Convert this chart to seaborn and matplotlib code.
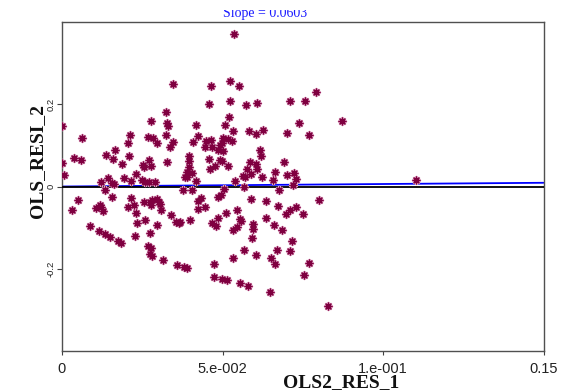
import numpy as np
import pandas as pd
import matplotlib
matplotlib.use("Agg")
import matplotlib.pyplot as plt
from matplotlib.patches import Rectangle
import seaborn as sns

# ---- data ----
ols2_res_1 = [
    0.0535, 0.0345, 0.0463, 0.0523, 0.0551, 0.0790, 0.0458, 0.0523, 0.0573, 0.0608,
    0.0709, 0.0757, 0.0324, 0.0521, 0.0278, 0.0327, 0.0331, 0.0418, 0.0508, 0.0739,
    0.0871, 0.0000, 0.0063, 0.0211, 0.0269, 0.0283, 0.0323, 0.0424, 0.0205, 0.0296,
    0.0345, 0.0335, 0.0408, 0.0444, 0.0165, 0.0138, 0.0038, 0.0059, 0.0159, 0.0208,
    0.0395, 0.0395, 0.0000, 0.0186, 0.0252, 0.0254, 0.0277, 0.0271, 0.0327, 0.0396,
    0.0389, 0.0406, 0.0005, 0.0229, 0.0382, 0.0390, 0.0144, 0.0193, 0.0120, 0.0156,
    0.0162, 0.0214, 0.0249, 0.0260, 0.0271, 0.0289, 0.0417, 0.0134, 0.0377, 0.0405,
    0.0050, 0.0156, 0.0214, 0.0255, 0.0275, 0.0279, 0.0297, 0.0302, 0.0424, 0.0434,
    0.0117, 0.0105, 0.0122, 0.0206, 0.0224, 0.0276, 0.0304, 0.0031, 0.0129, 0.0230,
    0.0308, 0.0341, 0.0425, 0.0259, 0.0398,
    0.0532, 0.0584, 0.0605, 0.0625, 0.0702, 0.0769, 0.0449, 0.0465, 0.0503, 0.0517,
    0.0529, 0.0499, 0.0491, 0.0467, 0.0485, 0.0503, 0.0617, 0.0619, 0.0459, 0.0493,
    0.0497, 0.0587, 0.0604, 0.0692, 0.0516, 0.0478, 0.0462, 0.0575, 0.0608, 0.0665,
    0.0701, 0.0723, 0.0563, 0.0569, 0.0589, 0.0622, 0.0658, 0.0730, 0.0538, 0.0721,
    0.0504, 0.0496, 0.0486, 0.0566, 0.0677, 0.0589, 0.0635, 0.0801, 0.0446, 0.0674,
    0.0511, 0.0544, 0.0710, 0.0730, 0.0751, 0.0699, 0.0486, 0.0553, 0.0559, 0.0635,
    0.0086, 0.0116, 0.0134, 0.0150, 0.0175, 0.0184, 0.0226, 0.0235, 0.0274, 0.0296,
    0.0354, 0.0364, 0.0369, 0.0267, 0.0278, 0.0273, 0.0280, 0.0314, 0.0357, 0.0380,
    0.0388, 0.0468, 0.0480, 0.0532, 0.0545, 0.0594, 0.0594, 0.0659, 0.0684, 0.0593,
    0.0717, 0.0568, 0.0605, 0.0671, 0.0711, 0.0650, 0.0663, 0.0532, 0.0474, 0.0769,
    0.0474, 0.0499, 0.0513, 0.0554, 0.0578, 0.0753, 0.0647, 0.0830, 0.1104,
]
ols_resi_2 = [
    0.3707, 0.2496, 0.2443, 0.2570, 0.2447, 0.2308, 0.2012, 0.2086, 0.1988, 0.2037,
    0.2068, 0.2086, 0.1800, 0.1685, 0.1584, 0.1543, 0.1465, 0.1494, 0.1506, 0.1543,
    0.1604, 0.1465, 0.1188, 0.1254, 0.1205, 0.1188, 0.1254, 0.1237, 0.1059, 0.1059,
    0.1090, 0.0961, 0.1090, 0.0951, 0.0895, 0.0756, 0.0699, 0.0650, 0.0675, 0.0731,
    0.0731, 0.0609, 0.0560, 0.0535, 0.0521, 0.0472, 0.0487, 0.0633, 0.0584, 0.0472,
    0.0364, 0.0340, 0.0276, 0.0301, 0.0227, 0.0242, 0.0203, 0.0203, 0.0112, 0.0095,
    0.0064, 0.0137, 0.0154, 0.0112, 0.0120, 0.0120, 0.0130, -0.0090, -0.0083, -0.0083,
    -0.0328, -0.0254, -0.0279, -0.0377, -0.0369, -0.0335, -0.0296, -0.0384, -0.0359, -0.0279,
    -0.0450, -0.0516, -0.0506, -0.0506, -0.0457, -0.0443, -0.0433, -0.0565, -0.0604, -0.0638,
    -0.0565, -0.0694, -0.0555, -0.0817, -0.0817,
    0.1342, 0.1342, 0.1269, 0.1367, 0.1303, 0.1254, 0.1098, 0.1122, 0.1181, 0.1164,
    0.1098, 0.1059, 0.1017, 0.0951, 0.0878, 0.0853, 0.0895, 0.0731, 0.0675, 0.0650,
    0.0609, 0.0594, 0.0545, 0.0584, 0.0487, 0.0487, 0.0430, 0.0430, 0.0423, 0.0350,
    0.0291, 0.0340, 0.0259, 0.0242, 0.0308, 0.0227, 0.0154, 0.0178, 0.0130, 0.0046,
    -0.0051, -0.0205, -0.0247, -0.0017, -0.0083, -0.0303, -0.0352, -0.0328, -0.0506, -0.0467,
    -0.0653, -0.0579, -0.0572, -0.0506, -0.0677, -0.0677, -0.0775, -0.0792, -0.0841, -0.0756,
    -0.0956, -0.1093, -0.1159, -0.1240, -0.1323, -0.1379, -0.1208, -0.0897, -0.1142, -0.0946,
    -0.0873, -0.0897, -0.0866, -0.1445, -0.1501, -0.1648, -0.1697, -0.1778, -0.1900, -0.1958,
    -0.1973, -0.0883, -0.0963, -0.1061, -0.0995, -0.0914, -0.1029, -0.0939, -0.1068, -0.1264,
    -0.1330, -0.1543, -0.1665, -0.1543, -0.1567, -0.1729, -0.1885, -0.1738, -0.1875, -0.1851,
    -0.2193, -0.2259, -0.2284, -0.2357, -0.2430, -0.2161, -0.2577, -0.2902, 0.0154,
]
slope = 0.0603
intercept = 0.0
x_ticks = [0.0, 0.05, 0.10, 0.15]
x_tick_labels = ["0", "5.e-002", "1.e-001", "0.15"]
y_ticks = [-0.2, 0.0, 0.2]
y_tick_labels = ["-0.2", "0", "0.2"]
y_limits = [-0.4, 0.4]
title_text = "Slope = 0.0603"
x_label = "OLS2_RES_1"
y_label = "OLS_RESI_2"

# ---- drawing ----
sns.set_style("white")
plt.rcParams["font.family"] = ["Liberation Sans", "DejaVu Sans"]

W, H = 564, 391
fig = plt.figure(figsize=(W / 100, H / 100), dpi=100)
ax = fig.add_axes([62 / W, 1 - 351 / H, (543.5 - 62) / W, (351 - 22) / H])

df = pd.DataFrame({x_label: ols2_res_1, y_label: ols_resi_2})

star = (8, 2, 0)
sns.scatterplot(data=df, x=x_label, y=y_label, ax=ax, marker=star, s=24,
                color="#dfa6c4", linewidth=1.9, legend=False, zorder=4)
sns.scatterplot(data=df, x=x_label, y=y_label, ax=ax, marker=star, s=24,
                color="#7f0040", linewidth=0.9, legend=False, zorder=5)

xl = np.array([x_ticks[0], x_ticks[-1]])
ax.plot(xl, intercept + slope * xl, color="#0000ff", lw=1.3, zorder=2)
ax.axhline(0, color="black", lw=1.3, zorder=3)

ax.set_xlim(x_ticks[0], x_ticks[-1])
ax.set_ylim(*y_limits)
ax.set_xticks(x_ticks)
ax.set_xticklabels(x_tick_labels)
ax.set_yticks(y_ticks)
ax.set_yticklabels(y_tick_labels, rotation=90, va="center")
ax.set_xlabel("")
ax.set_ylabel("")

ax.tick_params(axis="x", bottom=True, length=3, width=0.8, color="#404040",
               labelsize=10.5, pad=5, labelcolor="#222222")
ax.tick_params(axis="y", left=True, length=3.5, width=0.8, color="#404040",
               labelsize=6.8, pad=1, labelcolor="#222222")
for side, sp in ax.spines.items():
    sp.set_visible(True)
    sp.set_color("#505050")
    sp.set_linewidth(1.0)

serif = ["Liberation Serif", "DejaVu Serif"]
fig.text(340.8 / W, 1 - 383 / H, x_label, ha="center", va="center",
         fontsize=14, fontweight="bold", family=serif, color="#111111")
fig.text(38 / W, 1 - 161 / H, y_label, ha="center", va="center", rotation=90,
         fontsize=14, fontweight="bold", family=serif, color="#111111")
fig.text(265.3 / W, 1 - 17.5 / H, title_text, ha="center", va="baseline",
         fontsize=10, family=serif, color="#1a1aff")
fig.add_artist(Rectangle((0, 1 - 9.5 / H), 1, 9.5 / H, transform=fig.transFigure,
                         facecolor="white", edgecolor="none", zorder=20))

fig.savefig("out.png", dpi=100, facecolor="white")
